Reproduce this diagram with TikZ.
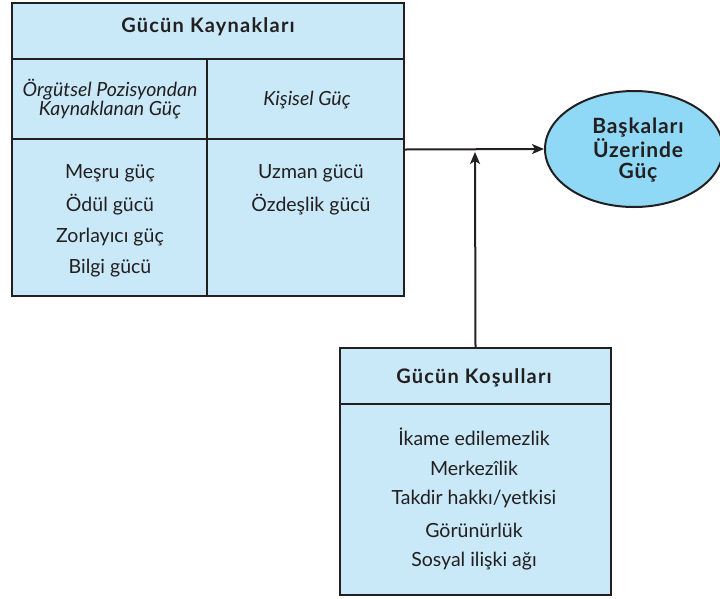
\documentclass[tikz,border=0pt]{standalone}
\usepackage{fontspec}
\setmainfont{Lato}
\newfontfamily\ttlfont{Lato}[LetterSpace=6]
\newfontfamily\ellfont{Lato}[LetterSpace=4]
\usetikzlibrary{arrows.meta,shapes.geometric}
\definecolor{boxfill}{HTML}{C9E9F8}
\definecolor{ellfill}{HTML}{8FD8F6}
\definecolor{ink}{HTML}{231F20}
\tikzset{
  panel/.style={draw=ink, line width=2pt, fill=boxfill, inner sep=0pt},
  divider/.style={draw=ink, line width=2pt},
  conn/.style={draw=ink, line width=2pt, -{Stealth[length=12pt,width=10pt,inset=3pt]}},
  ttl/.style={font=\ttlfont\bfseries\fontsize{20}{24}\selectfont, text=ink, inner sep=0pt},
  itm/.style={font=\fontsize{19.5}{23}\selectfont, text=ink, inner sep=0pt},
  hdr/.style={font=\itshape\fontsize{19.5}{19}\selectfont, text=ink, inner sep=0pt, align=center},
}
\begin{document}
\begin{tikzpicture}[x=1pt,y=-1pt]
\useasboundingbox (0,0) rectangle (720,598);
% Top panel
\node[panel, minimum width=392pt, minimum height=293pt] (top) at (208,149.5) {};
\draw[divider] (12,59) -- (404,59);
\draw[divider] (12,139) -- (404,139);
\draw[divider] (207,59) -- (207,296);
\node[ttl] (t1) at (208,27) {Gücün Kaynakları};
\node[hdr] (h1) at (110,99) {Örgütsel Pozisyondan\\Kaynaklanan Güç};
\node[hdr] (h2) at (307,100) {Kişisel Güç};
\node[itm] (a1) at (110,173) {Meşru güç};
\node[itm] (a2) at (110,205) {Ödül gücü};
\node[itm] (a3) at (110,237) {Zorlayıcı güç};
\node[itm] (a4) at (110,268) {Bilgi gücü};
\node[itm] (b1) at (311,173) {Uzman gücü};
\node[itm] (b2) at (311,205) {Özdeşlik gücü};
% Bottom panel
\node[panel, minimum width=271pt, minimum height=247pt] (bot) at (475.5,471.5) {};
\draw[divider] (340,404) -- (611,404);
\node[ttl] (t2) at (474,378) {Gücün Koşulları};
\node[itm] (c1) at (474,437) {İkame edilemezlik};
\node[itm] (c2) at (474,468) {Merkezîlik};
\node[itm] (c3) at (474,499) {Takdir hakkı/yetkisi};
\node[itm] (c4) at (474,530) {Görünürlük};
\node[itm] (c5) at (474,561) {Sosyal ilişki ağı};
% Ellipse
\node[ellipse, draw=ink, line width=2pt, fill=ellfill, minimum width=178pt, minimum height=116pt, inner sep=0pt] (ell) at (634,149) {};
\node[font=\ellfont\bfseries\fontsize{21}{21.5}\selectfont, text=ink, align=center, inner sep=0pt] (et) at (638,150) {Başkaları\\Üzerinde\\Güç};
% connectors
\coordinate (j) at (475,152);
\draw[conn] (top.east) -- (ell.west);
\draw[conn] (bot.north) -- (j);
\end{tikzpicture}
\end{document}
